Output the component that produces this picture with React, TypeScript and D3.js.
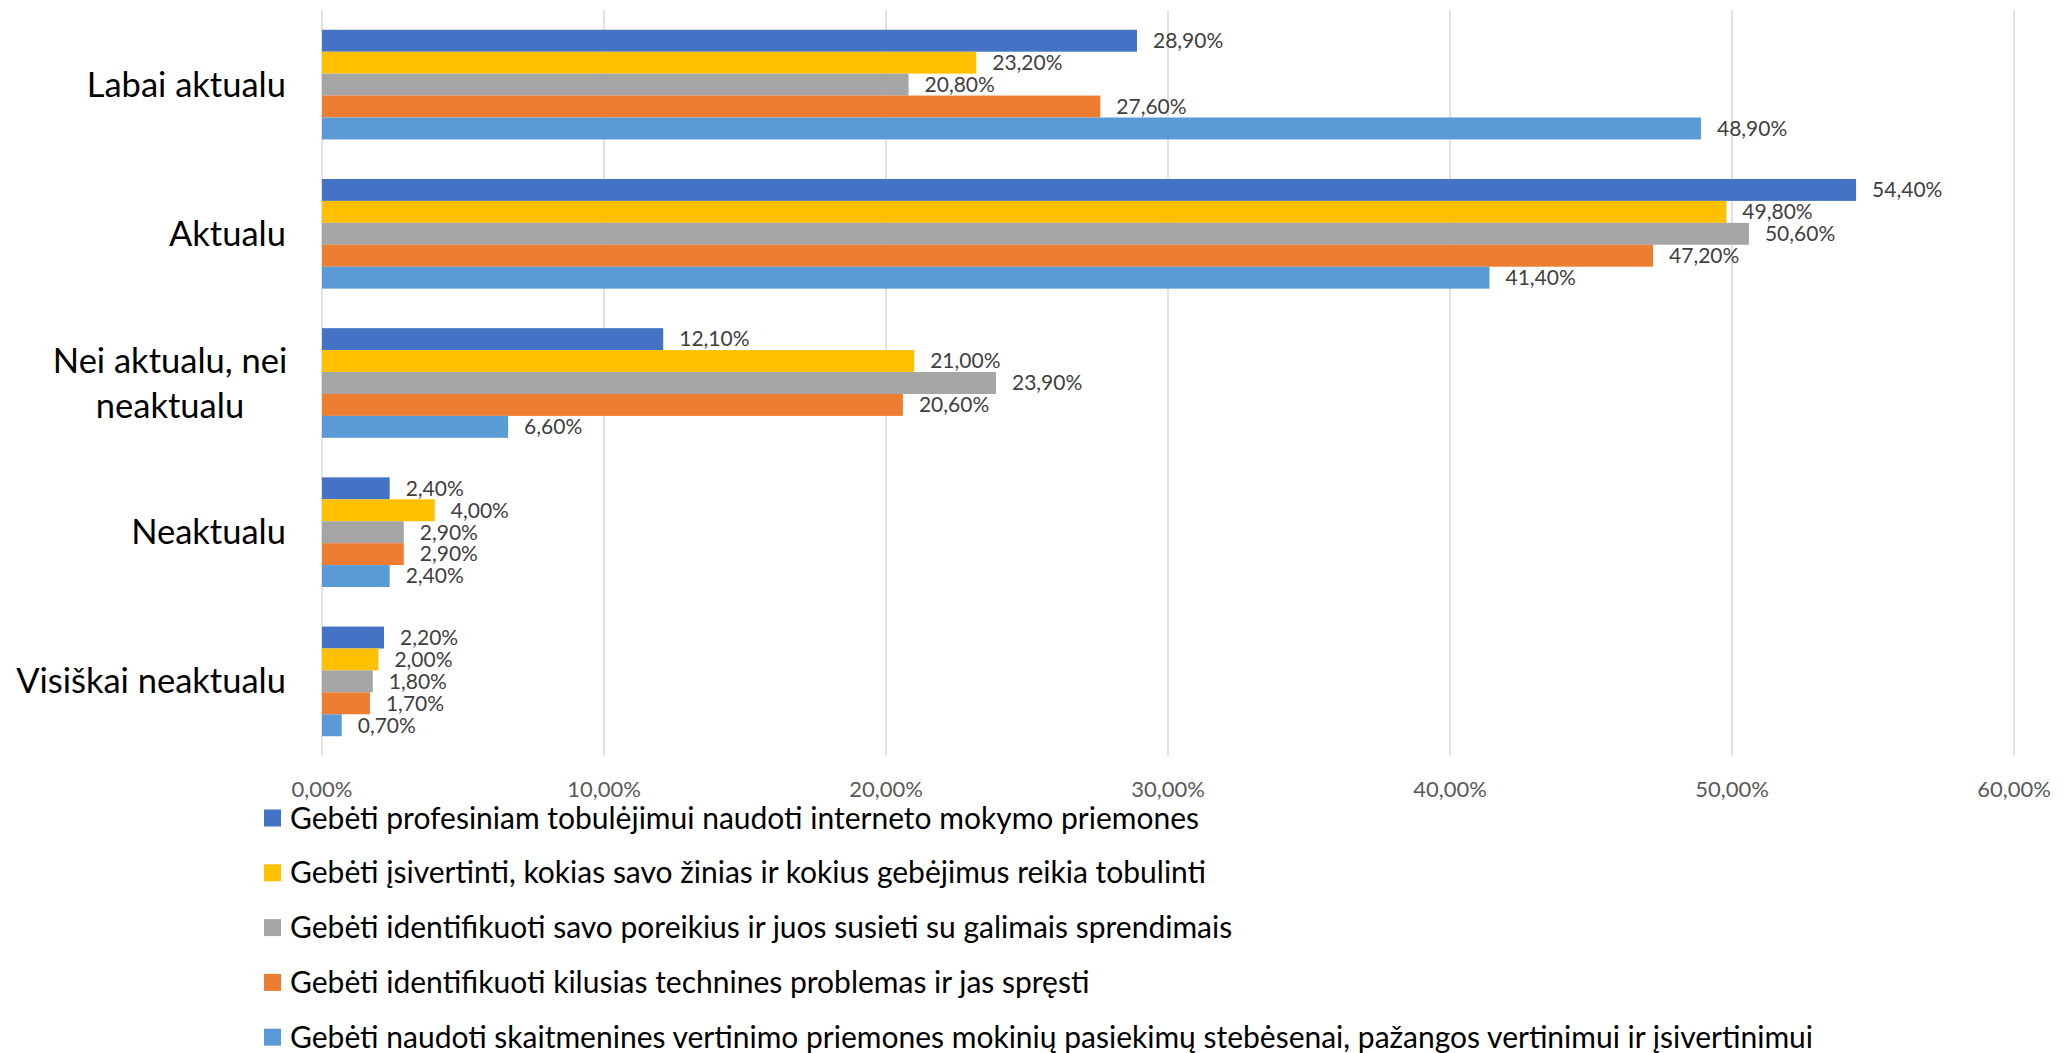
import * as d3 from 'd3'

const categories = ['Labai aktualu', 'Aktualu', 'Nei aktualu, nei neaktualu', 'Neaktualu', 'Visiškai neaktualu']

const seriesNames = [
  'Gebėti profesiniam tobulėjimui naudoti interneto mokymo priemones',
  'Gebėti įsivertinti, kokias savo žinias ir kokius gebėjimus reikia tobulinti',
  'Gebėti identifikuoti savo poreikius ir juos susieti su galimais sprendimais',
  'Gebėti identifikuoti kilusias technines problemas ir jas spręsti',
  'Gebėti naudoti skaitmenines vertinimo priemones mokinių pasiekimų stebėsenai, pažangos vertinimui ir įsivertinimui',
]

const internetoPriemones = [28.9, 54.4, 12.1, 2.4, 2.2]
const isivertinti = [23.2, 49.8, 21.0, 4.0, 2.0]
const poreikiai = [20.8, 50.6, 23.9, 2.9, 1.8]
const technines = [27.6, 47.2, 20.6, 2.9, 1.7]
const vertinimas = [48.9, 41.4, 6.6, 2.4, 0.7]

const seriesValues = [internetoPriemones, isivertinti, poreikiai, technines, vertinimas]
const colors = ['#4472C4', '#FFC000', '#A5A5A5', '#ED7D31', '#5B9BD5']
const xTicks = [0, 10, 20, 30, 40, 50, 60]

const W = 2069
const H = 1053
const FONT = 'Lato, "Open Sans", sans-serif'

// greedy wrap, Excel-ish
function wrap(label: string, maxChars = 20) {
  const words = label.split(' ')
  const lines: string[] = []
  let cur = ''
  for (const w of words) {
    const next = cur ? cur + ' ' + w : w
    if (next.length > maxChars && cur) {
      lines.push(cur)
      cur = w
    } else cur = next
  }
  if (cur) lines.push(cur)
  return lines
}

const fmt = (v: number) => d3.format('.2f')(v).replace('.', ',') + '%'

export default function App() {
  const margin = { top: 10, left: 322, right: 55, bottom: 297 }
  const plotBottom = H - margin.bottom

  const x = d3.scaleLinear().domain([0, 60]).range([margin.left, W - margin.right])
  const y = d3
    .scaleBand<string>()
    .domain(categories)
    .range([margin.top, plotBottom])
    .paddingInner(0.265)
    .paddingOuter(0.1325)
  const sub = d3
    .scaleBand<number>()
    .domain(d3.range(seriesValues.length))
    .range([0, y.bandwidth()])

  return (
    <div style={{ position: 'absolute', left: 0, top: 0 }}>
      <svg width={W} height={H} style={{ display: 'block', background: '#fff' }} fontFamily={FONT}>
        {xTicks.map((t) => (
          <g key={t}>
            <line x1={x(t)} x2={x(t)} y1={margin.top} y2={plotBottom} stroke="#D9D9D9" strokeWidth={1.5} />
            <text x={x(t)} y={797} textAnchor="middle" fontSize={22} fill="#595959">
              {fmt(t)}
            </text>
          </g>
        ))}

        {categories.map((c) => {
          const lines = wrap(c)
          const cy = (y(c) || 0) + y.bandwidth() / 2
          const lh = 45
          const labelRight = 286
          return (
            <g key={c}>
              {lines.length === 1 ? (
                <text x={labelRight} y={cy} dy="0.35em" textAnchor="end" fontSize={34.5} fill="#000">
                  {c}
                </text>
              ) : (
                <text textAnchor="middle" fontSize={34.5} fill="#000">
                  {lines.map((l, i) => (
                    <tspan key={i} x={170} y={cy + (i - (lines.length - 1) / 2) * lh} dy="0.35em">
                      {l}
                    </tspan>
                  ))}
                </text>
              )}
              {seriesValues.map((vals, si) => {
                const by = (y(c) || 0) + (sub(si) || 0)
                const v = vals[categories.indexOf(c)]
                return (
                  <g key={si}>
                    <rect x={x(0)} y={by} width={x(v) - x(0)} height={sub.bandwidth()} fill={colors[si]} />
                    <text x={x(v) + 16} y={by + sub.bandwidth() / 2} dy="0.35em" fontSize={21} fill="#404040">
                      {fmt(v)}
                    </text>
                  </g>
                )
              })}
            </g>
          )
        })}

        {seriesNames.map((name, i) => {
          const ly = 818 + i * 54.8
          return (
            <g key={name}>
              <rect x={264} y={ly - 8.5} width={17} height={17} fill={colors[i]} />
              <text x={290} y={ly} dy="0.35em" fontSize={30} fill="#000">
                {name}
              </text>
            </g>
          )
        })}
      </svg>
    </div>
  )
}
